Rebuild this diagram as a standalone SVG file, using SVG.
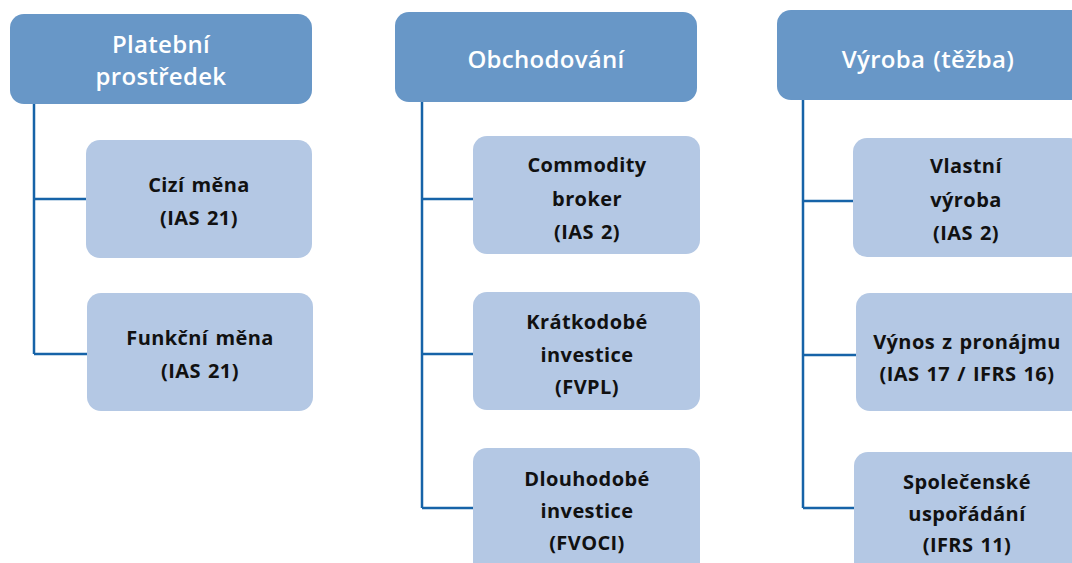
<svg xmlns="http://www.w3.org/2000/svg" width="1072" height="563" viewBox="0 0 1072 563">
<style>
.hdr{fill:#6897c7}
.box{fill:#b4c8e4}
.ht{font-family:"Open Sans","DejaVu Sans",sans-serif;font-weight:600;font-size:24px;letter-spacing:0.3px;word-spacing:1.5px;fill:#ffffff;text-anchor:middle}
.bt{font-family:"Open Sans","DejaVu Sans",sans-serif;font-weight:bold;font-size:20px;letter-spacing:0.4px;word-spacing:1.5px;fill:#111111;text-anchor:middle}
.ln{fill:none;stroke:#1663a8;stroke-width:2.5}
</style>
<rect width="1072" height="563" fill="#ffffff"/>
<g id="connectors">
<path class="ln" d="M34,104 V354 M34,199 H86 M34,354 H87"/>
<path class="ln" d="M422,102 V508 M422,199 H473 M422,354 H473 M422,508 H473"/>
<path class="ln" d="M803,100 V508 M803,201 H853 M803,355 H856 M803,508 H854"/>
</g>
<g id="platebni">
<rect class="hdr" x="10" y="14" width="302" height="90" rx="14"/>
<text class="ht" x="161" y="53">Platební</text>
<text class="ht" x="161" y="85">prostředek</text>
</g>
<g id="cizi">
<rect class="box" x="86" y="140" width="226" height="118" rx="14"/>
<text class="bt" x="199" y="192">Cizí měna</text>
<text class="bt" x="199" y="225">(IAS 21)</text>
</g>
<g id="funkcni">
<rect class="box" x="87" y="293" width="226" height="118" rx="14"/>
<text class="bt" x="200" y="345">Funkční měna</text>
<text class="bt" x="200" y="377.5">(IAS 21)</text>
</g>
<g id="obchodovani">
<rect class="hdr" x="395" y="12" width="302" height="90" rx="14"/>
<text class="ht" x="546" y="68">Obchodování</text>
</g>
<g id="commodity">
<rect class="box" x="473" y="136" width="227" height="118" rx="14"/>
<text class="bt" x="587" y="172">Commodity</text>
<text class="bt" x="587" y="206">broker</text>
<text class="bt" x="587" y="239">(IAS 2)</text>
</g>
<g id="kratkodobe">
<rect class="box" x="473" y="292" width="227" height="118" rx="14"/>
<text class="bt" x="587" y="329">Krátkodobé</text>
<text class="bt" x="587" y="361.5">investice</text>
<text class="bt" x="587" y="393.5">(FVPL)</text>
</g>
<g id="dlouhodobe">
<rect class="box" x="473" y="448" width="227" height="130" rx="14"/>
<text class="bt" x="587" y="486">Dlouhodobé</text>
<text class="bt" x="587" y="517.5">investice</text>
<text class="bt" x="587" y="549.5">(FVOCI)</text>
</g>
<g id="vyroba">
<rect class="hdr" x="777" y="10" width="310" height="90" rx="14"/>
<text class="ht" x="928" y="68">Výroba (těžba)</text>
</g>
<g id="vlastni">
<rect class="box" x="853" y="138" width="230" height="119" rx="14"/>
<text class="bt" x="966" y="173">Vlastní</text>
<text class="bt" x="966" y="206.5">výroba</text>
<text class="bt" x="966" y="239.5">(IAS 2)</text>
</g>
<g id="vynos">
<rect class="box" x="856" y="293" width="230" height="118" rx="14"/>
<text class="bt" x="967" y="349">Výnos z pronájmu</text>
<text class="bt" x="967" y="380.5">(IAS 17 / IFRS 16)</text>
</g>
<g id="spolecenske">
<rect class="box" x="854" y="452" width="230" height="130" rx="14"/>
<text class="bt" x="967" y="489">Společenské</text>
<text class="bt" x="967" y="520.5">uspořádání</text>
<text class="bt" x="967" y="552">(IFRS 11)</text>
</g>
</svg>
